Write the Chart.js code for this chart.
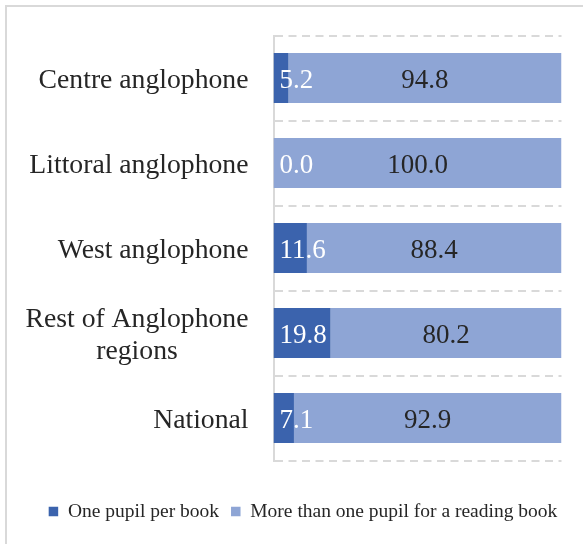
<!DOCTYPE html>
<html><head><meta charset="utf-8">
<script src="https://cdn.jsdelivr.net/npm/chart.js@4/dist/chart.umd.min.js"></script>
<style>html,body{margin:0;padding:0;background:#fff;}#wrap{width:583px;height:544px;}</style>
</head><body>
<div id="wrap"><canvas id="c" width="583" height="544"></canvas></div>
<script>
const categories = ['Centre anglophone', 'Littoral anglophone', 'West anglophone', ['Rest of Anglophone', 'regions'], 'National'];
const seriesNames = ['One pupil per book', 'More than one pupil for a reading book'];
const onePupil = [5.2, 0.0, 11.6, 19.8, 7.1];
const moreThanOne = [94.8, 100.0, 88.4, 80.2, 92.9];

const FONT = '"Liberation Serif", "Times New Roman", serif';
const TEXT = '#262626';
Chart.defaults.font.family = FONT;

const frame = {
  id: 'frame',
  beforeDraw(chart) {
    const ctx = chart.ctx;
    ctx.save();
    ctx.fillStyle = '#fff';
    ctx.fillRect(0, 0, chart.width, chart.height);
    ctx.strokeStyle = '#d9d9d9';
    ctx.lineWidth = 2;
    ctx.strokeRect(6, 6, chart.width + 20, chart.height + 20);
    ctx.restore();
  }
};

const catLabels = {
  id: 'catLabels',
  afterDraw(chart) {
    const ctx = chart.ctx, ys = chart.scales.y;
    const xr = ys.right - 25;
    ctx.save();
    ctx.font = '27.7px ' + FONT;
    ctx.fillStyle = TEXT;
    ctx.textBaseline = 'alphabetic';
    chart.data.labels.forEach((c, i) => {
      const cy = ys.getPixelForValue(i) + 10.2;
      const lines = Array.isArray(c) ? c : [c];
      const maxW = Math.max(...lines.map(l => ctx.measureText(l).width));
      const lh = 31.6;
      lines.forEach((l, k) => {
        const ly = cy + (k - (lines.length - 1) / 2) * lh;
        if (lines.length > 1) { ctx.textAlign = 'center'; ctx.fillText(l, xr - maxW / 2, ly); }
        else { ctx.textAlign = 'right'; ctx.fillText(l, xr, ly); }
      });
    });
    ctx.restore();
  }
};

const valueLabels = {
  id: 'valueLabels',
  afterDatasetsDraw(chart) {
    const ctx = chart.ctx;
    ctx.save();
    ctx.font = '27px ' + FONT;
    ctx.textBaseline = 'alphabetic';
    ctx.textAlign = 'center';
    chart.data.datasets.forEach((ds, di) => {
      const meta = chart.getDatasetMeta(di);
      meta.data.forEach((el, i) => {
        const txt = ds.data[i].toFixed(1);
        const w = ctx.measureText(txt).width;
        const lo = Math.min(el.x, el.base), hi = Math.max(el.x, el.base);
        const cx = Math.max((lo + hi) / 2, lo + w / 2 + 6);
        ctx.fillStyle = di === 0 ? '#ffffff' : TEXT;
        ctx.fillText(txt, cx, el.y + 10);
      });
    });
    ctx.restore();
  }
};

new Chart(document.getElementById('c'), {
  type: 'bar',
  data: {
    labels: categories,
    datasets: [
      { label: seriesNames[0], data: onePupil, backgroundColor: '#3b63ad', borderWidth: 0, barPercentage: 0.588, categoryPercentage: 1 },
      { label: seriesNames[1], data: moreThanOne, backgroundColor: '#8ea5d5', borderWidth: 0, barPercentage: 0.588, categoryPercentage: 1 }
    ]
  },
  options: {
    indexAxis: 'y',
    responsive: false,
    animation: false,
    layout: { padding: { left: 32, right: 9, top: 35.5, bottom: 12.75 } },
    scales: {
      x: {
        stacked: true, min: 0, max: 100, display: true,
        ticks: { display: false }, grid: { display: false }, border: { display: false },
        afterFit(s) { s.height = 29.25; }
      },
      y: {
        stacked: true,
        ticks: { display: false },
        grid: { color: '#d9d9d9', lineWidth: 2, drawTicks: false, offset: true },
        border: { display: true, color: '#d9d9d9', width: 2, dash: [8, 5.5] },
        afterFit(s) { s.width = 241.5; }
      },
      yRight: {
        axis: 'y', position: 'right', display: true,
        ticks: { display: false }, grid: { display: false }, border: { display: false },
        afterFit(s) { s.width = 12.5; }
      }
    },
    plugins: {
      legend: {
        position: 'bottom',
        labels: { boxWidth: 9.5, boxHeight: 9.5, padding: 12, color: TEXT, font: { size: 19.5, family: FONT } }
      },
      tooltip: { enabled: false }
    }
  },
  plugins: [frame, catLabels, valueLabels]
});
</script>
</body></html>
